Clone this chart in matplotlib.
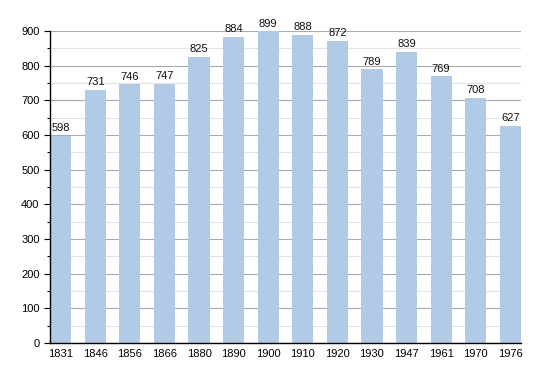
import matplotlib
matplotlib.use("Agg")
import matplotlib.pyplot as plt
from matplotlib.ticker import MultipleLocator

plt.rcParams["font.family"] = ["Liberation Sans", "DejaVu Sans"]

years = ["1831", "1846", "1856", "1866", "1880", "1890", "1900", "1910",
         "1920", "1930", "1947", "1961", "1970", "1976"]
population = [598, 731, 746, 747, 825, 884, 899, 888, 872, 789, 839, 769, 708, 627]

fig = plt.figure(figsize=(5.5, 3.73), dpi=100)
ax = fig.add_axes([0.0909, 0.0804, 0.8564, 0.8365])

x = range(len(years))
ax.bar(x, population, width=0.61, color="#b1cbe6", zorder=2)
for xi, v in zip(x, population):
    ax.text(xi, v + 8, str(v), ha="center", va="bottom", fontsize=8, color="#111111")

ax.set_xlim(-0.31, len(years) - 1 + 0.31)
ax.set_ylim(0, 900)
ax.set_xticks(list(x))
ax.set_xticklabels(years, fontsize=8)
ax.yaxis.set_major_locator(MultipleLocator(100))
ax.yaxis.set_minor_locator(MultipleLocator(50))
ax.tick_params(axis="y", labelsize=8, length=4, width=0.8)
ax.tick_params(axis="y", which="minor", length=2.5, width=0.8)
ax.tick_params(axis="x", length=0, pad=4)
ax.grid(axis="y", which="major", color="#aaaaaa", linewidth=0.8, zorder=0)
ax.grid(axis="y", which="minor", color="#e2e2e2", linewidth=0.8, zorder=0)
ax.set_axisbelow(True)
for s in ["top", "right"]:
    ax.spines[s].set_visible(False)
ax.spines["left"].set_linewidth(1.0)
ax.spines["bottom"].set_linewidth(1.0)

fig.savefig("out.png", dpi=100)
